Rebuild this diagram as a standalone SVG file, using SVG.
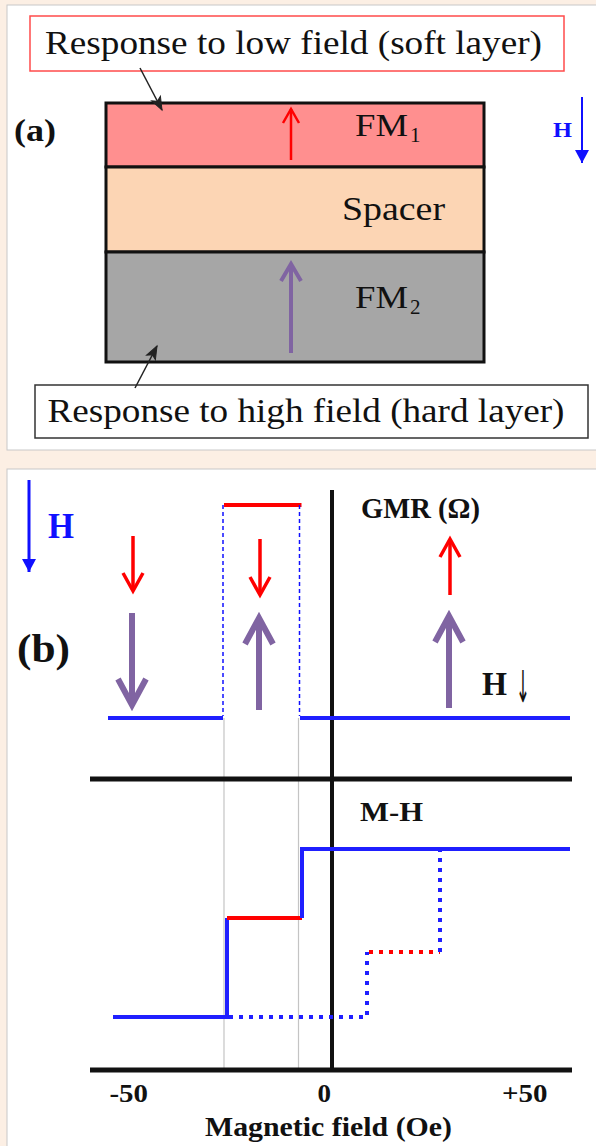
<svg xmlns="http://www.w3.org/2000/svg" width="596" height="1146" viewBox="0 0 596 1146">
<defs>
<style>
.t{font-family:"Liberation Serif","Times New Roman",serif;fill:#111}
.b{font-weight:bold}
.blue{fill:#1010ff}
.ln{fill:none;stroke-linecap:butt}
</style>
<marker id="vRedA" markerUnits="userSpaceOnUse" markerWidth="1" markerHeight="1" orient="auto" overflow="visible"><path d="M-14,-8 L0,0 L-14,8" fill="none" stroke="#ff0000" stroke-width="2.5" stroke-linejoin="miter"/></marker>
<marker id="vPurA" markerUnits="userSpaceOnUse" markerWidth="1" markerHeight="1" orient="auto" overflow="visible"><path d="M-17,-10 L0,0 L-17,10" fill="none" stroke="#8064a2" stroke-width="4"/></marker>
<marker id="vRedB" markerUnits="userSpaceOnUse" markerWidth="1" markerHeight="1" orient="auto" overflow="visible"><path d="M-18,-10 L0,0 L-18,10" fill="none" stroke="#ff0000" stroke-width="3.5"/></marker>
<marker id="vPurB" markerUnits="userSpaceOnUse" markerWidth="1" markerHeight="1" orient="auto" overflow="visible"><path d="M-26,-14 L0,0 L-26,14" fill="none" stroke="#8064a2" stroke-width="6"/></marker>
<marker id="fBlue" markerUnits="userSpaceOnUse" markerWidth="1" markerHeight="1" orient="auto" overflow="visible"><path d="M-13,-7 L0,0 L-13,7 Z" fill="#1010ff"/></marker>
<marker id="fBlack" markerUnits="userSpaceOnUse" markerWidth="1" markerHeight="1" orient="auto" overflow="visible"><path d="M-13,-5 L0,0 L-13,5 L-10,0 Z" fill="#222" stroke="#222" stroke-width="1"/></marker>
</defs>
<rect x="0" y="0" width="596" height="1146" fill="#fcefe4"/>
<g id="panel-a">
<rect x="7" y="5" width="600" height="445" fill="#ffffff" stroke="#c8c8c8" stroke-width="1"/>
<g id="soft-label">
<rect x="30" y="16" width="534" height="55" fill="#ffffff" stroke="#ff4b4b" stroke-width="1.5"/>
<text class="t" x="45" y="54" font-size="33" textLength="497" lengthAdjust="spacingAndGlyphs">Response to low field (soft layer)</text>
</g>
<g id="fm1">
<rect x="106" y="103" width="378" height="64" fill="#ff8f8f" stroke="#111" stroke-width="3"/>
<text class="t" x="355" y="136" font-size="32" textLength="53" lengthAdjust="spacingAndGlyphs">FM</text>
<text class="t" x="410" y="142" font-size="21">1</text>
</g>
<g id="spacer">
<rect x="106" y="167" width="378" height="85" fill="#fcd5b4" stroke="#111" stroke-width="3"/>
<text class="t" x="342" y="220" font-size="33" textLength="103" lengthAdjust="spacingAndGlyphs">Spacer</text>
</g>
<g id="fm2">
<rect x="106" y="252" width="378" height="110" fill="#a6a6a6" stroke="#111" stroke-width="3"/>
<text class="t" x="355" y="308" font-size="32" textLength="53" lengthAdjust="spacingAndGlyphs">FM</text>
<text class="t" x="410" y="314" font-size="21">2</text>
</g>
<g id="hard-label">
<rect x="35" y="385" width="553" height="53" fill="#ffffff" stroke="#333" stroke-width="1.5"/>
<text class="t" x="47.5" y="422" font-size="33" textLength="517" lengthAdjust="spacingAndGlyphs">Response to high field (hard layer)</text>
</g>
<g id="label-a">
<text class="t b" x="14" y="141" font-size="32" textLength="42" lengthAdjust="spacingAndGlyphs">(a)</text>
</g>
<g id="field-a">
<text class="t b blue" x="553" y="137" font-size="22" textLength="19" lengthAdjust="spacingAndGlyphs">H</text>
</g>
</g>
<g id="panel-b">
<rect x="7" y="469" width="600" height="690" fill="#ffffff" stroke="#c8c8c8" stroke-width="1"/>
<g id="field-b"><text class="t b blue" x="48" y="538" font-size="35" textLength="26" lengthAdjust="spacingAndGlyphs">H</text></g>
<g id="label-b"><text class="t b" x="17" y="662" font-size="40" textLength="53" lengthAdjust="spacingAndGlyphs">(b)</text></g>
<g id="gmr-label"><text class="t b" x="361" y="518" font-size="29" textLength="119" lengthAdjust="spacingAndGlyphs">GMR (Ω)</text></g>
<g id="h-down-label"><text class="t b" x="482" y="695" font-size="34" textLength="25" lengthAdjust="spacingAndGlyphs">H</text><text x="516" y="702" font-family="DejaVu Sans, sans-serif" font-size="44" fill="#111" textLength="14" lengthAdjust="spacingAndGlyphs">↓</text></g>
<g id="mh-label"><text class="t b" x="360" y="821" font-size="28" textLength="63" lengthAdjust="spacingAndGlyphs">M-H</text></g>
<g id="axis-labels">
<text class="t b" x="109.5" y="1102" font-size="26" textLength="38.5" lengthAdjust="spacingAndGlyphs">-50</text>
<text class="t b" x="317.5" y="1102" font-size="26" textLength="13.5" lengthAdjust="spacingAndGlyphs">0</text>
<text class="t b" x="502" y="1102" font-size="26" textLength="45.5" lengthAdjust="spacingAndGlyphs">+50</text>
<text class="t b" x="205" y="1136" font-size="28" textLength="247" lengthAdjust="spacingAndGlyphs">Magnetic field (Oe)</text>
</g>
</g>
<g id="connectors">
<line class="ln" x1="140" y1="68" x2="162" y2="110" stroke="#222" stroke-width="1.5" marker-end="url(#fBlack)"/>
<line class="ln" x1="135" y1="388" x2="157" y2="346" stroke="#222" stroke-width="1.5" marker-end="url(#fBlack)"/>
<line class="ln" x1="291" y1="160" x2="291" y2="109" stroke="#ff0000" stroke-width="2.5" marker-end="url(#vRedA)"/>
<line class="ln" x1="291" y1="353" x2="291" y2="264" stroke="#8064a2" stroke-width="4" marker-end="url(#vPurA)"/>
<line class="ln" x1="582" y1="97" x2="582" y2="163" stroke="#1010ff" stroke-width="2" marker-end="url(#fBlue)"/>
<line class="ln" x1="29" y1="480" x2="29" y2="572" stroke="#1010ff" stroke-width="3" marker-end="url(#fBlue)"/>
<line class="ln" x1="224" y1="718" x2="224" y2="1070" stroke="#c4c4c4" stroke-width="1.2"/>
<line class="ln" x1="298.5" y1="718" x2="298.5" y2="1070" stroke="#c4c4c4" stroke-width="1.2"/>
<line class="ln" x1="332" y1="490" x2="332" y2="1070" stroke="#111" stroke-width="4"/>
<line class="ln" x1="90" y1="779" x2="572" y2="779" stroke="#111" stroke-width="5"/>
<line class="ln" x1="90" y1="1070" x2="572" y2="1070" stroke="#111" stroke-width="5"/>
<line class="ln" x1="224" y1="505" x2="301.5" y2="505" stroke="#ff0000" stroke-width="4"/>
<line class="ln" x1="223" y1="505" x2="223" y2="716" stroke="#1010ff" stroke-width="1.5" stroke-dasharray="4 3"/>
<line class="ln" x1="299.5" y1="505" x2="299.5" y2="716" stroke="#1010ff" stroke-width="1.5" stroke-dasharray="4 3"/>
<path class="ln" d="M108,718 H223 M300,718 H570" stroke="#1f1fff" stroke-width="4"/>
<line class="ln" x1="133" y1="536" x2="133" y2="591" stroke="#ff0000" stroke-width="3.5" marker-end="url(#vRedB)"/>
<line class="ln" x1="132" y1="613" x2="132" y2="705" stroke="#8064a2" stroke-width="6" marker-end="url(#vPurB)"/>
<line class="ln" x1="260" y1="539" x2="260" y2="595" stroke="#ff0000" stroke-width="3.5" marker-end="url(#vRedB)"/>
<line class="ln" x1="259" y1="710" x2="259" y2="618" stroke="#8064a2" stroke-width="6" marker-end="url(#vPurB)"/>
<line class="ln" x1="450" y1="595" x2="450" y2="539" stroke="#ff0000" stroke-width="3.5" marker-end="url(#vRedB)"/>
<line class="ln" x1="449" y1="708" x2="449" y2="616" stroke="#8064a2" stroke-width="6" marker-end="url(#vPurB)"/>
<path class="ln" d="M113,1017 H227 V918" stroke="#1f1fff" stroke-width="4"/>
<line class="ln" x1="227" y1="918" x2="302" y2="918" stroke="#ff0000" stroke-width="4"/>
<path class="ln" d="M302,918 V849 H570" stroke="#1f1fff" stroke-width="4"/>
<path class="ln" d="M229,1017 H367 V952" stroke="#1f1fff" stroke-width="4" stroke-dasharray="4 6"/>
<line class="ln" x1="369" y1="952" x2="440" y2="952" stroke="#ff0000" stroke-width="4" stroke-dasharray="4 6"/>
<line class="ln" x1="440" y1="952" x2="440" y2="851" stroke="#1f1fff" stroke-width="4" stroke-dasharray="4 6"/>
</g>
</svg>
